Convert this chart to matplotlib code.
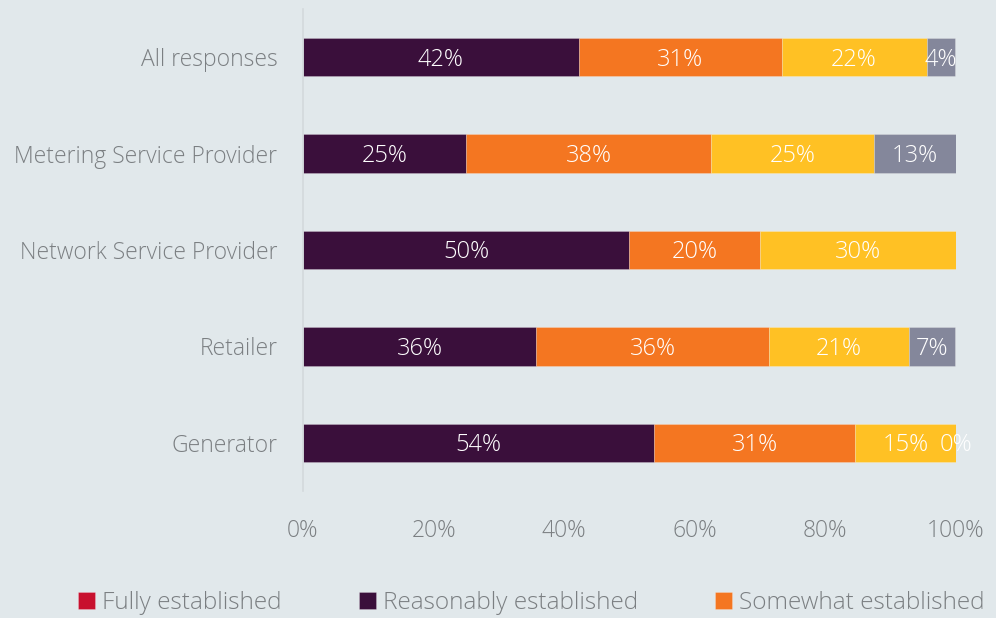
import numpy as np
import matplotlib
matplotlib.use("Agg")
import matplotlib.pyplot as plt

# Survey groups (top to bottom) and share of responses per maturity level (%)
categories = ["All responses", "Metering Service Provider", "Network Service Provider",
              "Retailer", "Generator"]
fully_established = [0.0, 0.0, 0.0, 0.0, 0.0]
reasonably_established = [42.2, 25.0, 50.0, 35.7, 53.8]
somewhat_established = [31.1, 37.5, 20.0, 35.7, 30.8]
not_established = [22.2, 25.0, 30.0, 21.4, 15.4]
unsure = [4.4, 12.5, np.nan, 7.1, 0.0]

series_names = ["Fully established", "Reasonably established", "Somewhat established",
                "Not established", "Unsure"]
series_values = [fully_established, reasonably_established, somewhat_established,
                 not_established, unsure]
series_colors = ["#C8102E", "#3A0F3B", "#F47621", "#FFC124", "#84879B"]
labelled = [False, True, True, True, True]
legend_count = 3

x_ticks = [0, 20, 40, 60, 80, 100]

bg = "#E1E8EB"
text_grey = "#7B7F82"
font = ["Open Sans", "DejaVu Sans"]

plt.rcParams["font.family"] = font
plt.rcParams["font.weight"] = "light"


def pct(v):
    # round half up so 12.5 shows as 13%
    return f"{int(np.floor(v + 0.5))}%"


fig = plt.figure(figsize=(9.96, 6.18), dpi=100, facecolor=bg)
ax = fig.add_axes([0.3042, 0.2055, 0.6556, 0.780], facecolor=bg)

y = np.arange(len(categories))
left = np.zeros(len(categories))
handles = []
for name, vals, color, lab in zip(series_names, series_values, series_colors, labelled):
    vals = np.asarray(vals, dtype=float)
    widths = np.nan_to_num(vals)
    bars = ax.barh(y, widths, left=left, height=0.40, color=color, label=name,
                   edgecolor=(1, 1, 1, 0.25), linewidth=0.6)
    handles.append(bars)
    if lab:
        for yi, l, v in zip(y, left, vals):
            if np.isnan(v):
                continue
            ax.text(l + v / 2, yi + 0.025, pct(v), ha="center", va="center",
                    color="white", fontsize=17, fontweight="light")
    left = left + widths

ax.set_ylim(len(categories) - 0.5, -0.5)
ax.set_xlim(0, 100)
ax.set_yticks(y)
ax.set_yticklabels(categories)
ax.set_xticks(x_ticks)
ax.set_xticklabels([f"{t}%" for t in x_ticks])
ax.tick_params(axis="both", length=0, labelsize=16.5, labelcolor=text_grey)
ax.tick_params(axis="y", pad=18.5)
ax.tick_params(axis="x", pad=20.5)
for side in ["top", "right", "bottom"]:
    ax.spines[side].set_visible(False)
ax.spines["left"].set_color("#D3D9DC")
ax.spines["left"].set_linewidth(1.2)

fig.legend(handles=handles[:legend_count], labels=series_names[:legend_count],
           loc="center left", bbox_to_anchor=(78 / 996, 1 - 603 / 618), ncol=legend_count,
           frameon=False, fontsize=17.6, labelcolor=text_grey, borderpad=0,
           handlelength=0.7, handleheight=0.7, handletextpad=0.29, columnspacing=3.15,
           borderaxespad=0)

fig.savefig("out.png", dpi=100, facecolor=bg)
